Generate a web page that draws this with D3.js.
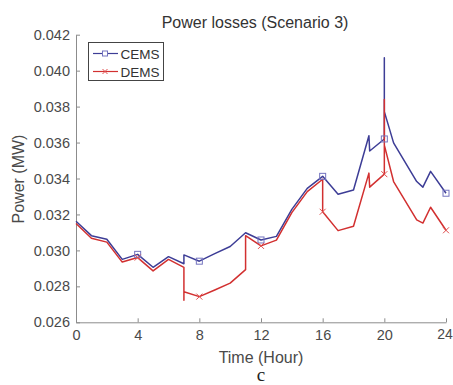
<!DOCTYPE html>
<html>
<head>
<meta charset="utf-8">
<script src="https://cdn.jsdelivr.net/npm/d3@7"></script>
<style>
  body { margin: 0; background: #fff; }
  svg { font-family: 'Liberation Sans', Arial, sans-serif; }
</style>
</head>
<body>
<svg id="chart" width="453" height="385"></svg>
<script>
// CEMS curve (hours may repeat where the curve jumps vertically)
const cemsHours = [0, 1, 2, 3, 4, 5, 6, 7, 7, 8, 9, 10, 11, 12, 13, 14, 15, 16, 17, 18,
  19, 19.05, 20, 20, 20, 20.6, 22.1, 22.5, 23, 24];
const cemsValues = [0.03162, 0.03082, 0.03062, 0.02950, 0.02978, 0.02906, 0.02965, 0.02926, 0.02975, 0.02940,
  0.02982, 0.03022, 0.03098, 0.03058, 0.03078, 0.03228, 0.03345, 0.03412, 0.03312, 0.03336,
  0.03638, 0.03553, 0.03620, 0.04072, 0.03772, 0.03598, 0.03383, 0.03352, 0.03440, 0.03318];

// DEMS curve
const demsHours = [0, 1, 2, 3, 4, 5, 6, 7, 7, 7, 8, 9, 10, 11, 11, 12, 13, 14, 15, 16, 16, 17, 18,
  19, 19.05, 20, 20, 20, 20.6, 22.1, 22.5, 23, 24];
const demsValues = [0.03150, 0.03068, 0.03046, 0.02935, 0.02960, 0.02886, 0.02950, 0.02906, 0.02722, 0.02770,
  0.02743, 0.02780, 0.02818, 0.02893, 0.03082, 0.03025, 0.03057, 0.03210, 0.03327, 0.03396, 0.03215,
  0.03110, 0.03134, 0.03430, 0.03352, 0.03424, 0.03840, 0.03586, 0.03383, 0.03170, 0.03152, 0.03240, 0.03112];

// marker positions
const markerHours = [4, 8, 12, 16, 20, 24];
const cemsMarkers = [0.02978, 0.02940, 0.03058, 0.03412, 0.03620, 0.03318];
const demsMarkers = [0.02960, 0.02743, 0.03025, 0.03215, 0.03424, 0.03112];

const xTicks = [0, 4, 8, 12, 16, 20, 24];
const yTicks = [0.026, 0.028, 0.030, 0.032, 0.034, 0.036, 0.038, 0.040, 0.042];

const blue = '#3d3d96';
const red = '#d23030';
const axisColor = '#8c8c8c';
const textColor = '#4a4a4a';

const svg = d3.select('#chart');

const x = d3.scaleLinear().domain([0, 24]).range([76, 446]);
const y = d3.scaleLinear().domain([0.026, 0.042]).range([322.3, 34.7]);

// axes, ticks pointing inward
const axisX = d3.axisBottom(x).tickValues(xTicks).tickSize(-4).tickSizeOuter(0).tickPadding(7);
const axisY = d3.axisLeft(y).tickValues(yTicks).tickFormat(d3.format('.3f'))
  .tickSize(-4).tickSizeOuter(0).tickPadding(6);

const gx = svg.append('g')
  .attr('transform', 'translate(0,' + y.range()[0] + ')')
  .call(axisX);
const gy = svg.append('g')
  .attr('transform', 'translate(' + x.range()[0] + ',0)')
  .call(axisY);

[gx, gy].forEach(g => {
  g.select('.domain').attr('stroke', axisColor);
  g.selectAll('.tick line').attr('stroke', axisColor);
  g.selectAll('.tick text')
    .attr('fill', textColor)
    .style('font-size', '14.5px')
    .style('font-family', "'Liberation Sans', Arial, sans-serif");
});
// last x label sits right at the page edge
gx.selectAll('.tick text').filter(d => d === 24).attr('dx', -1.5).style('font-size', '14px');

const line = d3.line()
  .x(d => x(d[0]))
  .y(d => y(d[1]));

const cemsData = cemsHours.map((h, i) => [h, cemsValues[i]]);
const demsData = demsHours.map((h, i) => [h, demsValues[i]]);

svg.append('path')
  .datum(cemsData)
  .attr('fill', 'none')
  .attr('stroke', blue)
  .attr('stroke-width', 1.5)
  .attr('stroke-linejoin', 'round')
  .attr('d', line);

svg.append('path')
  .datum(demsData)
  .attr('fill', 'none')
  .attr('stroke', red)
  .attr('stroke-width', 1.5)
  .attr('stroke-linejoin', 'round')
  .attr('d', line);

// square markers
svg.append('g').selectAll('rect')
  .data(markerHours.map((h, i) => [h, cemsMarkers[i]]))
  .join('rect')
  .attr('x', d => x(d[0]) - 3)
  .attr('y', d => y(d[1]) - 3)
  .attr('width', 6)
  .attr('height', 6)
  .attr('fill', 'none')
  .attr('stroke', '#7474bf')
  .attr('stroke-width', 1);

// cross markers
const crossPath = (cx, cy, r) =>
  'M' + (cx - r) + ',' + (cy - r) + 'L' + (cx + r) + ',' + (cy + r) +
  'M' + (cx - r) + ',' + (cy + r) + 'L' + (cx + r) + ',' + (cy - r);

svg.append('g').selectAll('path')
  .data(markerHours.map((h, i) => [h, demsMarkers[i]]))
  .join('path')
  .attr('d', d => crossPath(x(d[0]), y(d[1]), 3))
  .attr('stroke', '#e05050')
  .attr('stroke-width', 1);

// title and labels
svg.append('text')
  .attr('x', 255)
  .attr('y', 28)
  .attr('text-anchor', 'middle')
  .attr('fill', '#333')
  .style('font-size', '16px')
  .text('Power losses (Scenario 3)');

svg.append('text')
  .attr('x', 261)
  .attr('y', 363)
  .attr('text-anchor', 'middle')
  .attr('fill', textColor)
  .style('font-size', '16px')
  .text('Time (Hour)');

svg.append('text')
  .attr('transform', 'translate(24,179) rotate(-90)')
  .attr('text-anchor', 'middle')
  .attr('fill', textColor)
  .style('font-size', '16px')
  .text('Power (MW)');

svg.append('text')
  .attr('x', 261)
  .attr('y', 381)
  .attr('text-anchor', 'middle')
  .attr('fill', '#222')
  .style('font-family', "'Liberation Serif', 'Times New Roman', serif")
  .style('font-size', '19px')
  .text('c');

// legend
const legend = svg.append('g');
legend.append('rect')
  .attr('x', 88.5)
  .attr('y', 42.5)
  .attr('width', 75)
  .attr('height', 38)
  .attr('fill', '#fff')
  .attr('stroke', '#444')
  .attr('stroke-width', 1);

const legendItems = [
  { name: 'CEMS', color: blue, marker: 'square', cy: 53.5 },
  { name: 'DEMS', color: red, marker: 'cross', cy: 71.5 }
];

legendItems.forEach(item => {
  legend.append('line')
    .attr('x1', 93).attr('x2', 118)
    .attr('y1', item.cy).attr('y2', item.cy)
    .attr('stroke', item.color)
    .attr('stroke-width', 1.2);
  if (item.marker === 'square') {
    legend.append('rect')
      .attr('x', 102.5).attr('y', item.cy - 2.5)
      .attr('width', 5).attr('height', 5)
      .attr('fill', '#fff')
      .attr('stroke', '#7474bf');
  } else {
    legend.append('path')
      .attr('d', crossPath(105, item.cy, 2.5))
      .attr('stroke', '#e05050');
  }
  legend.append('text')
    .attr('x', 120.5)
    .attr('y', item.cy + 5)
    .attr('fill', '#333')
    .style('font-size', '13.5px')
    .text(item.name);
});
</script>
</body>
</html>
